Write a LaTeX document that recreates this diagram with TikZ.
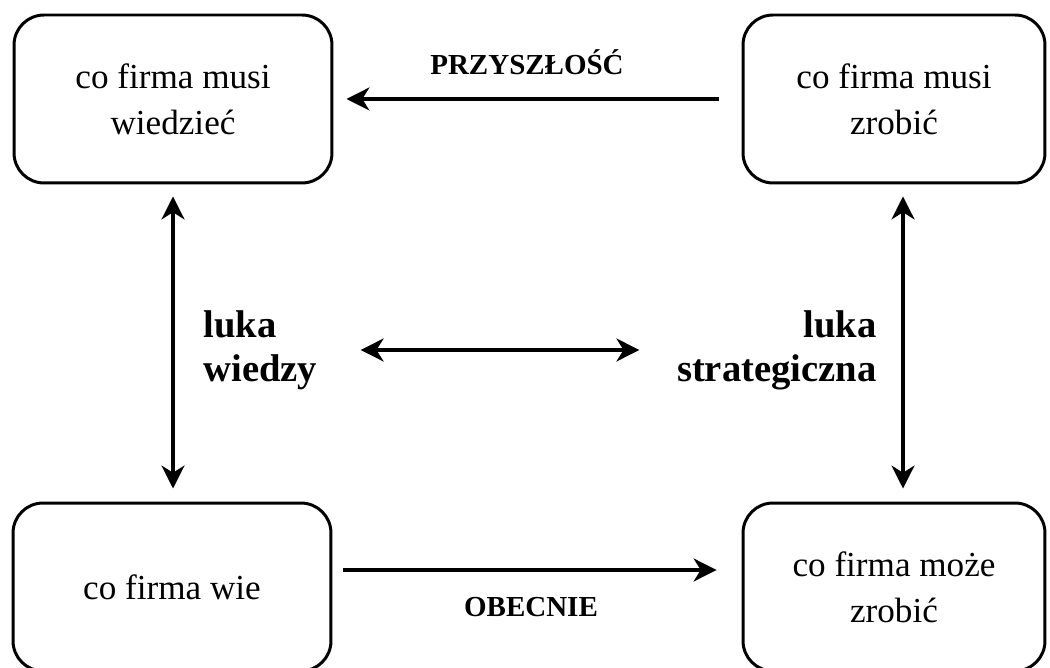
\documentclass[tikz,border=0pt]{standalone}
\usepackage{fontspec}
\setmainfont{Liberation Serif}
\usetikzlibrary{arrows.meta}

\begin{document}
\begin{tikzpicture}[x=0.02cm, y=0.02cm,
  box/.style={draw, line width=1.7pt, rounded corners=0.6cm, align=center,
    minimum height=3.36cm, font=\fontsize{20}{26}\selectfont},
  gap/.style={line width=2.3pt, -{Stealth[length=13pt, width=13pt, inset=4pt]}},
  gaps/.style={line width=2.3pt,
    {Stealth[length=13pt, width=13pt, inset=4pt]}-{Stealth[length=13pt, width=13pt, inset=4pt]}},
  tag/.style={font=\fontsize{16.5}{20}\selectfont\bfseries},
  luka/.style={inner sep=0pt, font=\fontsize{22}{25}\selectfont\bfseries}]
  \useasboundingbox (0,0) rectangle (1050,668);
  % the four boxes
  \node[name=musiwiedziec, shape=rectangle, box, minimum width=6.36cm] at (173,569)
    {co firma musi\\wiedzieć};
  \node[name=musizrobic, shape=rectangle, box, minimum width=6.04cm] at (894,569)
    {co firma musi\\zrobić};
  \node[name=wie, shape=rectangle, box, minimum width=6.36cm] at (172,81)
    {co firma wie};
  \node[name=mozezrobic, shape=rectangle, box, minimum width=6.04cm] at (894,81)
    {co firma może\\zrobić};
  % labels
  \node[name=przyszlosc, tag] at (527,606) {PRZYSZŁOŚĆ};
  \node[name=obecnie, tag] at (531,61) {OBECNIE};
  \node[name=lukawiedzy, luka, anchor=west, text width=2.5cm, align=left] at (203,318)
    {luka\\wiedzy};
  \node[name=lukastrat, luka, anchor=east, text width=4.2cm, align=right] at (877,318)
    {luka\\strategiczna};
  % arrows
  \draw[gap, shorten <=0.46cm, shorten >=0.26cm] (musizrobic.west) -- (musiwiedziec.east);
  \draw[gap, shorten <=0.22cm, shorten >=0.5cm]
    ([yshift=0.34cm]wie.east) -- ([yshift=0.34cm]mozezrobic.west);
  \draw[gaps, shorten <=0.24cm, shorten >=0.26cm] (musiwiedziec.south) -- (musiwiedziec.south |- wie.north);
  \draw[gaps, shorten <=0.24cm, shorten >=0.26cm]
    ([xshift=0.18cm]musizrobic.south) -- ([xshift=0.18cm]mozezrobic.north);
  \draw[gaps, shorten <=0.64cm, shorten >=0.54cm] (lukawiedzy.east) -- (lukastrat.west);
\end{tikzpicture}
\end{document}
